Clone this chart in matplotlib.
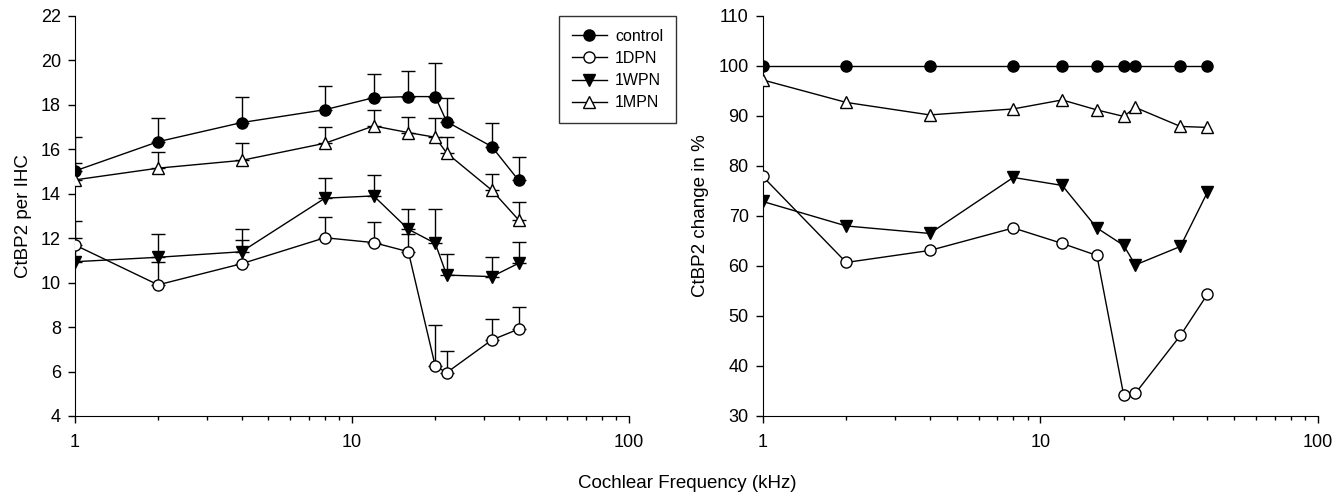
import matplotlib
matplotlib.use("Agg")
import matplotlib.pyplot as plt
import numpy as np
from matplotlib.ticker import LogLocator, NullFormatter, FixedLocator, FixedFormatter

plt.rcParams['font.family'] = ['Liberation Sans', 'DejaVu Sans']

# cochlear frequencies (kHz)
freq = [1, 2, 4, 8, 12, 16, 20, 22, 32, 40]

# left panel: CtBP2 per IHC (mean and top of error bar)
control = [15.02, 16.34, 17.2, 17.78, 18.32, 18.37, 18.37, 17.24, 16.12, 14.6]
control_top = [16.57, 17.42, 18.37, 18.85, 19.39, 19.52, 19.9, 18.32, 17.17, 15.67]
dpn = [11.7, 9.9, 10.85, 12.02, 11.8, 11.39, 6.25, 5.95, 7.42, 7.91]
dpn_top = [12.77, 10.92, 11.92, 12.94, 12.74, 12.2, 8.1, 6.94, 8.35, 8.89]
wpn = [10.94, 11.14, 11.39, 13.8, 13.9, 12.4, 11.77, 10.34, 10.27, 10.87]
wpn_top = [12.0, 12.18, 12.41, 14.7, 14.84, 13.3, 13.3, 11.29, 11.17, 11.81]
mpn = [14.62, 15.15, 15.5, 16.27, 17.05, 16.75, 16.54, 15.83, 14.16, 12.82]
mpn_top = [15.37, 15.88, 16.27, 16.99, 17.77, 17.44, 17.41, 16.55, 14.88, 13.62]

# right panel: change in %
control_pct = [100, 100, 100, 100, 100, 100, 100, 100, 100, 100]
dpn_pct = [77.9, 60.7, 63.1, 67.6, 64.5, 62.1, 34.1, 34.5, 46.1, 54.3]
wpn_pct = [72.9, 68.0, 66.5, 77.7, 76.1, 67.6, 64.1, 60.2, 63.9, 74.7]
mpn_pct = [97.2, 92.7, 90.2, 91.4, 93.2, 91.2, 89.9, 91.7, 87.9, 87.7]

names = ['control', '1DPN', '1WPN', '1MPN']
styles = [('o', 'black'), ('o', 'white'), ('v', 'black'), ('^', 'white')]

fig = plt.figure(figsize=(13.43, 4.97), dpi=100)
ax1 = fig.add_axes([0.0556, 0.163, 0.4127, 0.805])
ax2 = fig.add_axes([0.5679, 0.163, 0.4133, 0.805])

left_data = [(control, control_top), (dpn, dpn_top), (wpn, wpn_top), (mpn, mpn_top)]
handles = []
for (vals, tops), (mk, fc), name in zip(left_data, styles, names):
    v = np.array(vals)
    err = [np.zeros_like(v), np.array(tops) - v]
    ax1.errorbar(freq, v, yerr=err, fmt='none', ecolor='black', elinewidth=1, capsize=5, capthick=1, zorder=2)
    h, = ax1.plot(freq, v, color='black', lw=1, marker=mk, markersize=8,
                  markerfacecolor=fc, markeredgecolor='black', markeredgewidth=1, zorder=3, label=name)
    handles.append(h)

for vals, (mk, fc) in zip([control_pct, dpn_pct, wpn_pct, mpn_pct], styles):
    ax2.plot(freq, vals, color='black', lw=1, marker=mk, markersize=8,
             markerfacecolor=fc, markeredgecolor='black', markeredgewidth=1, zorder=3)

for ax in (ax1, ax2):
    ax.set_xscale('log')
    ax.set_xlim(1, 100)
    ax.spines['top'].set_visible(False)
    ax.spines['right'].set_visible(False)
    ax.xaxis.set_major_locator(FixedLocator([1, 10, 100]))
    ax.xaxis.set_major_formatter(FixedFormatter(['1', '10', '100']))
    ax.xaxis.set_minor_locator(LogLocator(base=10, subs=np.arange(2, 10)))
    ax.xaxis.set_minor_formatter(NullFormatter())
    ax.tick_params(which='major', direction='out', length=5, width=1, labelsize=13, pad=8)
    ax.tick_params(which='minor', direction='out', length=3, width=1)
    ax.tick_params(axis='y', pad=5)

ax1.set_ylim(4, 22)
ax1.set_yticks(range(4, 23, 2))
ax1.set_ylabel('CtBP2 per IHC', fontsize=13.5, labelpad=6)
ax2.set_ylim(30, 110)
ax2.set_yticks(range(30, 111, 10))
ax2.set_ylabel('CtBP2 change in %', fontsize=13.5, labelpad=7)

fig.text(0.512, 0.01, 'Cochlear Frequency (kHz)', ha='center', va='bottom', fontsize=13.5)

leg = fig.legend(handles=handles, loc='upper left', bbox_to_anchor=(559 / 1343, 1 - 16 / 497),
                 frameon=True, fancybox=False, fontsize=11.5, handlelength=2.2,
                 borderpad=0.8, labelspacing=0.45, handletextpad=0.5, borderaxespad=0)
leg.get_frame().set_edgecolor('black')
leg.get_frame().set_linewidth(1)

fig.savefig('out.png', dpi=100)
